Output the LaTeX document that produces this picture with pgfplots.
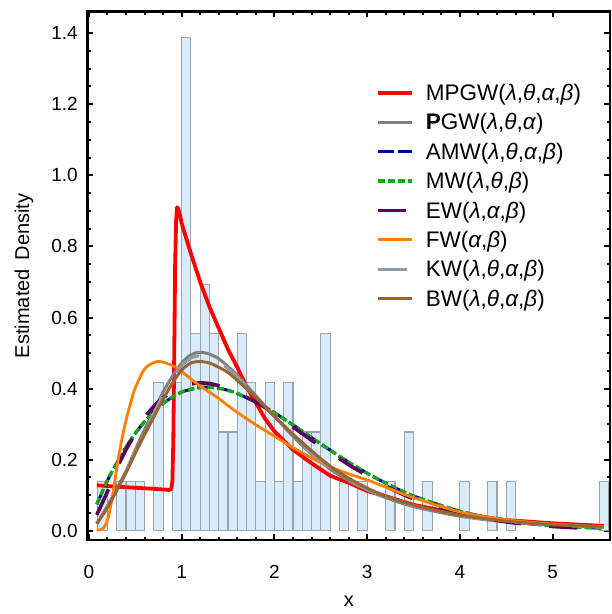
\documentclass[border=0pt]{standalone}
\usepackage{pgfplots}
\pgfplotsset{compat=1.18}
\usepackage{fontspec}
\setmainfont{Liberation Sans}
\definecolor{histfill}{RGB}{220,235,250}
\definecolor{histedge}{RGB}{150,165,182}
\definecolor{cMPGW}{RGB}{255,0,0}
\definecolor{cPGW}{RGB}{128,128,128}
\definecolor{cAMW}{RGB}{0,0,170}
\definecolor{cMW}{RGB}{20,170,20}
\definecolor{cEW}{RGB}{90,0,90}
\definecolor{cFW}{RGB}{255,128,0}
\definecolor{cKW}{RGB}{143,155,168}
\definecolor{cBW}{RGB}{153,102,51}
\newcommand{\gl}{\textit{λ}}
\newcommand{\gt}{\textit{θ}}
\newcommand{\ga}{\textit{α}}
\newcommand{\gb}{\textit{β}}
\begin{document}
\begin{tikzpicture}
\begin{axis}[
  scale only axis, width=522.5bp, height=528.5bp,
  xmin=-0.015, xmax=5.618, ymin=-0.026, ymax=1.461,
  axis line style={line width=2.5bp, black},
  tick align=inside,
  major tick length=6bp, minor tick length=3.5bp,
  every tick/.style={black, line width=2bp},
  xtick={0,1,2,3,4,5}, minor x tick num=4,
  ytick={0,0.2,0.4,0.6,0.8,1.0,1.2,1.4}, minor y tick num=3,
  xtick pos=both, ytick pos=both,
  xticklabel pos=lower, yticklabel pos=left,
  /pgf/number format/assume math mode=true,
  yticklabel style={/pgf/number format/.cd, fixed, fixed zerofill, precision=1, /tikz/.cd, inner sep=0pt, xshift=-9.5bp, font=\fontsize{19bp}{22bp}\selectfont},
  xticklabel style={inner sep=0pt, yshift=-25bp, font=\fontsize{19bp}{22bp}\selectfont},
  xlabel={x}, ylabel={Estimated\hspace{0.45em}Density},
  x label style={at={(axis description cs:0.5,-0.1154)}, anchor=center, font=\fontsize{20bp}{24bp}\selectfont},
  y label style={at={(axis description cs:-0.1215,0.5)}, anchor=center, font=\fontsize{20bp}{24bp}\selectfont},
  legend cell align=left,
  legend style={draw=none, fill=none, inner sep=0pt, outer sep=0pt,
    at={(axis description cs:0.5522,0.8605)}, anchor=north west,
    row sep=14.2bp, font=\fontsize{22.5bp}{26bp}\selectfont,
    nodes={inner sep=0pt, outer sep=0pt, text height=15.2bp, text depth=0bp}},
  /tikz/every odd column/.append style={column sep=12bp},
  legend image code/.code={\draw[#1, line cap=butt] (0bp,0bp) -- (34bp,0bp);},
]
% histogram
\addplot[ybar, bar width=0.11, bar shift=0pt, fill=histfill, draw=histedge, line width=1.1bp, forget plot]
  coordinates {(0.145,0.139)};
\addplot[ybar, bar width=0.1, bar shift=0pt, fill=histfill, draw=histedge, line width=1.1bp, forget plot]
  coordinates {
  (0.35,0.139) (0.45,0.139) (0.55,0.139) (0.75,0.417) (0.95,0.417)
  (1.05,1.389) (1.15,0.556) (1.25,0.694) (1.35,0.556) (1.45,0.278)
  (1.55,0.278) (1.65,0.556) (1.75,0.417) (1.85,0.139) (1.95,0.417)
  (2.05,0.139) (2.15,0.417) (2.25,0.139) (2.35,0.278) (2.45,0.278)
  (2.55,0.556) (2.75,0.139) (2.95,0.139) (3.25,0.139) (3.45,0.278)
  (3.65,0.139) (4.05,0.139) (4.35,0.139) (4.55,0.139) (5.55,0.139)};
% MPGW
\addplot[cMPGW, line width=3.8bp, line join=round] coordinates {
  (0.085,0.128) (0.3,0.124) (0.5,0.121) (0.7,0.118) (0.86,0.115) (0.88,0.116)
  (0.89,0.12) (0.9,0.14) (0.91,0.25) (0.92,0.5) (0.93,0.75) (0.94,0.87)
  (0.95,0.91) (0.96,0.908) (0.98,0.89) (1.0,0.865) (1.1,0.78) (1.2,0.70)
  (1.3,0.63) (1.4,0.57) (1.5,0.51) (1.6,0.46) (1.7,0.405) (1.8,0.36)
  (1.9,0.315) (2.0,0.28) (2.2,0.228) (2.4,0.19) (2.6,0.155) (2.8,0.135)
  (3.0,0.112) (3.2,0.097) (3.5,0.073) (4.0,0.047) (4.5,0.030) (5.0,0.021) (5.55,0.0135)};
\addlegendentry{MPGW(\gl,\gt,\ga,\gb)}
% PGW
\addplot[cPGW, line width=3bp, smooth] coordinates {
  (0.085,0.02) (0.2,0.07) (0.3,0.118) (0.4,0.168) (0.5,0.228) (0.6,0.285)
  (0.7,0.337) (0.8,0.39) (0.9,0.435) (1.0,0.472) (1.1,0.495) (1.2,0.502)
  (1.3,0.497) (1.4,0.484) (1.5,0.462) (1.6,0.437) (1.8,0.38) (2.0,0.322)
  (2.2,0.266) (2.4,0.216) (2.6,0.174) (2.8,0.141) (3.0,0.115) (3.2,0.093)
  (3.5,0.068) (4.0,0.041) (4.5,0.025) (5.0,0.016) (5.55,0.01)};
\addlegendentry{\textbf{P}GW(\gl,\gt,\ga)}
% AMW
\addplot[cAMW, line width=3bp, smooth, dash pattern=on 15.7bp off 4.3bp] coordinates {
  (0.085,0.074) (0.2,0.141) (0.3,0.19) (0.4,0.235) (0.5,0.274) (0.6,0.307)
  (0.7,0.335) (0.8,0.358) (0.9,0.376) (1.0,0.39) (1.1,0.398) (1.2,0.403)
  (1.3,0.404) (1.4,0.401) (1.5,0.395) (1.6,0.386) (1.8,0.362) (2.0,0.332)
  (2.2,0.298) (2.4,0.262) (2.6,0.227) (2.8,0.193) (3.0,0.162) (3.2,0.134)
  (3.5,0.098) (4.0,0.055) (4.5,0.028) (5.0,0.014) (5.55,0.007)};
\addlegendentry{AMW(\gl,\gt,\ga,\gb)}
% MW
\addplot[cMW, line width=3.3bp, smooth, dash pattern=on 6.7bp off 3.3bp] coordinates {
  (0.085,0.075) (0.2,0.142) (0.3,0.19) (0.4,0.235) (0.5,0.274) (0.6,0.307)
  (0.7,0.335) (0.8,0.358) (0.9,0.376) (1.0,0.39) (1.1,0.398) (1.2,0.403)
  (1.3,0.404) (1.4,0.401) (1.5,0.395) (1.6,0.386) (1.8,0.362) (2.0,0.332)
  (2.2,0.298) (2.4,0.262) (2.6,0.227) (2.8,0.193) (3.0,0.162) (3.2,0.134)
  (3.5,0.098) (4.0,0.055) (4.5,0.028) (5.0,0.014) (5.55,0.007)};
\addlegendentry{MW(\gl,\gt,\gb)}
% EW
\addplot[cEW, line width=3.6bp, smooth, dash pattern=on 28bp off 28bp] coordinates {
  (0.085,0.045) (0.2,0.11) (0.3,0.175) (0.4,0.228) (0.5,0.273) (0.6,0.318)
  (0.7,0.35) (0.8,0.374) (0.9,0.392) (1.0,0.405) (1.1,0.413) (1.2,0.416)
  (1.3,0.414) (1.4,0.408) (1.5,0.398) (1.6,0.388) (1.8,0.362) (2.0,0.33)
  (2.2,0.292) (2.4,0.255) (2.6,0.221) (2.8,0.186) (3.0,0.155) (3.2,0.126)
  (3.5,0.09) (4.0,0.05) (4.5,0.025) (5.0,0.012) (5.55,0.005)};
\addlegendentry{EW(\gl,\ga,\gb)}
% FW
\addplot[cFW, line width=2.8bp, smooth] coordinates {
  (0.085,0.002) (0.15,0.006) (0.2,0.03) (0.25,0.09) (0.3,0.175) (0.35,0.25)
  (0.4,0.31) (0.45,0.36) (0.5,0.402) (0.6,0.455) (0.7,0.473) (0.77,0.476)
  (0.9,0.465) (1.0,0.448) (1.1,0.427) (1.2,0.407) (1.3,0.39) (1.4,0.372)
  (1.5,0.352) (1.6,0.333) (1.8,0.298) (2.0,0.266) (2.2,0.234) (2.4,0.205)
  (2.6,0.18) (2.8,0.16) (3.0,0.143) (3.2,0.123) (3.5,0.093) (4.0,0.053)
  (4.5,0.031) (5.0,0.019) (5.55,0.011)};
\addlegendentry{FW(\ga,\gb)}
% KW
\addplot[cKW, line width=3bp, smooth, dash pattern=on 29bp off 28bp] coordinates {
  (0.085,0.02) (0.2,0.068) (0.3,0.116) (0.4,0.166) (0.5,0.224) (0.6,0.28)
  (0.7,0.331) (0.8,0.383) (0.9,0.428) (1.0,0.464) (1.1,0.486) (1.2,0.492)
  (1.3,0.488) (1.4,0.476) (1.5,0.456) (1.6,0.432) (1.8,0.378) (2.0,0.322)
  (2.2,0.268) (2.4,0.219) (2.6,0.177) (2.8,0.143) (3.0,0.117) (3.2,0.095)
  (3.5,0.07) (4.0,0.042) (4.5,0.026) (5.0,0.016) (5.55,0.01)};
\addlegendentry{KW(\gl,\gt,\ga,\gb)}
% BW
\addplot[cBW, line width=3bp, smooth] coordinates {
  (0.085,0.02) (0.2,0.065) (0.3,0.113) (0.4,0.163) (0.5,0.218) (0.6,0.27)
  (0.7,0.32) (0.8,0.37) (0.9,0.415) (1.0,0.452) (1.1,0.472) (1.2,0.476)
  (1.3,0.472) (1.4,0.46) (1.5,0.445) (1.6,0.423) (1.8,0.375) (2.0,0.322)
  (2.2,0.272) (2.4,0.225) (2.6,0.182) (2.8,0.148) (3.0,0.12) (3.2,0.098)
  (3.5,0.072) (4.0,0.044) (4.5,0.027) (5.0,0.017) (5.55,0.011)};
\addlegendentry{BW(\gl,\gt,\ga,\gb)}
\end{axis}
\pgfresetboundingbox
\path[use as bounding box] (-87.5bp,-74bp) rectangle (524.5bp,540bp);
\end{tikzpicture}
\end{document}
